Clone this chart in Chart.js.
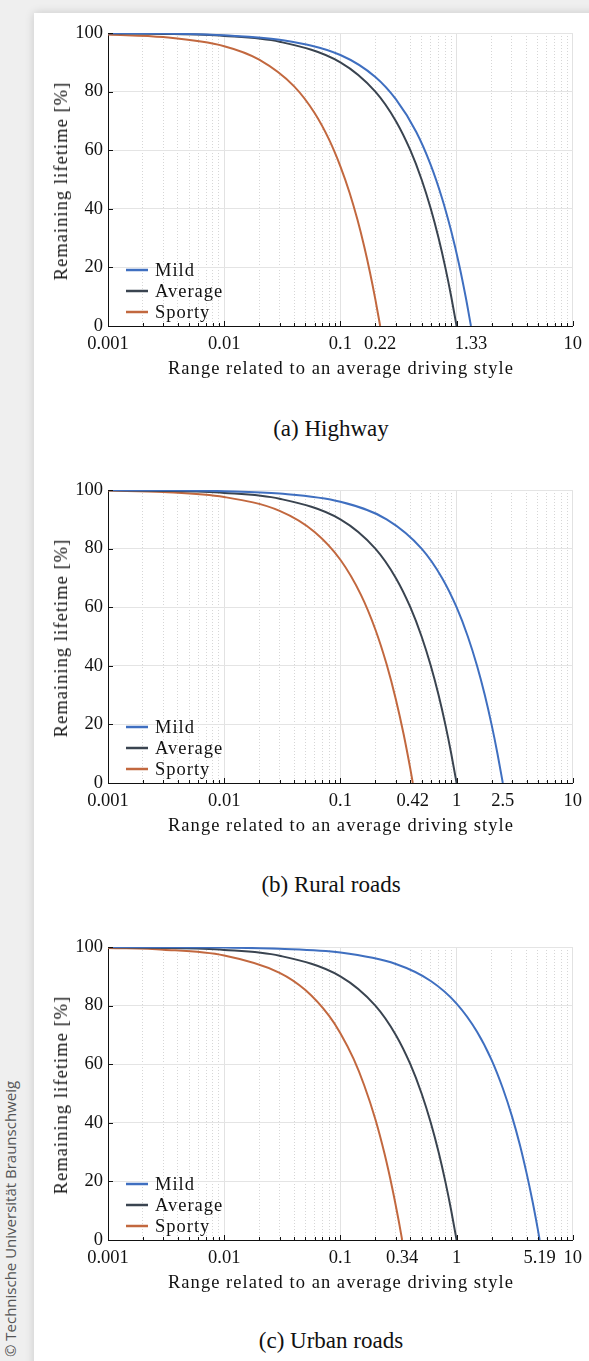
<!DOCTYPE html>
<html>
<head>
<meta charset="utf-8">
<script src="https://cdn.jsdelivr.net/npm/chart.js@4.4.0/dist/chart.umd.min.js"></script>
<style>
  html, body { margin: 0; padding: 0; }
  body { width: 589px; height: 1361px; background: #efefef; position: relative; overflow: hidden; font-family: "Liberation Serif", serif; color: #111; }
  #card { position: absolute; left: 34px; top: 13px; width: 580px; height: 1380px; background: #fff; box-shadow: 0 0 9px rgba(0,0,0,0.16); }
  .wrap { position: absolute; left: 35px; width: 554px; height: 365px; }
  .cap { position: absolute; left: 0; width: 662px; text-align: center; font-size: 23px; line-height: 28px; }
  .xt { position: absolute; left: 108px; width: 466px; text-align: center; font-size: 18.5px; letter-spacing: 1.05px; line-height: 22px; white-space: nowrap; }
  .yt { position: absolute; left: 61px; transform: translate(-50%, -50%) rotate(-90deg); font-size: 18.5px; letter-spacing: 1.05px; line-height: 22px; white-space: nowrap; }
  #wm { position: absolute; left: 10px; top: 1219px; transform: translate(-50%, -50%) rotate(-90deg); white-space: nowrap; font-family: "Open Sans", sans-serif; font-size: 15px; color: #555; }
</style>
</head>
<body>
<div id="card"></div>
<div class="wrap" style="top:13px"><canvas id="c1" width="554" height="365"></canvas></div>
<div class="xt" style="top:357px">Range related to an average driving style</div>
<div class="yt" style="top:181px">Remaining lifetime [%]</div>
<div class="cap" style="top:415px">(a) Highway</div>
<div class="wrap" style="top:470px"><canvas id="c2" width="554" height="365"></canvas></div>
<div class="xt" style="top:814px">Range related to an average driving style</div>
<div class="yt" style="top:638px">Remaining lifetime [%]</div>
<div class="cap" style="top:871px">(b) Rural roads</div>
<div class="wrap" style="top:927px"><canvas id="c3" width="554" height="365"></canvas></div>
<div class="xt" style="top:1271px">Range related to an average driving style</div>
<div class="yt" style="top:1095px">Remaining lifetime [%]</div>
<div class="cap" style="top:1327px">(c) Urban roads</div>
<div id="wm">© Technische Universität Braunschweig</div>
<script>
const seriesNames = ["Mild", "Average", "Sporty"];
const seriesColors = ["#3f6fc0", "#3a4450", "#c2683f"];

// (a) Highway
const hwLabels = [0.001, 0.01, 0.1, 0.22, 1.33, 10];
const hwMildX = [0.001, 0.003, 0.01, 0.03, 0.1, 0.2, 0.3, 0.45, 0.6, 0.75, 0.9, 1.05, 1.2, 1.33];
const hwMildY = [99.9, 99.8, 99.2, 97.7, 92.5, 85.0, 77.4, 66.2, 54.9, 43.6, 32.3, 21.1, 9.8, 0];
const hwAvgX = [0.001, 0.003, 0.01, 0.03, 0.1, 0.2, 0.3, 0.4, 0.5, 0.6, 0.7, 0.8, 0.9, 1.0];
const hwAvgY = [99.9, 99.7, 99.0, 97.0, 90.0, 80.0, 70.0, 60.0, 50.0, 40.0, 30.0, 20.0, 10.0, 0];
const hwSpoX = [0.001, 0.003, 0.01, 0.02, 0.04, 0.06, 0.08, 0.1, 0.12, 0.14, 0.16, 0.18, 0.2, 0.22];
const hwSpoY = [99.5, 98.6, 95.5, 90.9, 81.8, 72.7, 63.6, 54.5, 45.5, 36.4, 27.3, 18.2, 9.1, 0];

// (b) Rural roads
const ruLabels = [0.001, 0.01, 0.1, 0.42, 1, 2.5, 10];
const ruMildX = [0.001, 0.003, 0.01, 0.03, 0.1, 0.25, 0.5, 0.75, 1, 1.25, 1.5, 1.75, 2, 2.25, 2.5];
const ruMildY = [99.96, 99.9, 99.6, 98.8, 96.0, 90.0, 80.0, 70.0, 60.0, 50.0, 40.0, 30.0, 20.0, 10.0, 0];
const ruAvgX = [0.001, 0.003, 0.01, 0.03, 0.1, 0.2, 0.3, 0.4, 0.5, 0.6, 0.7, 0.8, 0.9, 1.0];
const ruAvgY = [99.9, 99.7, 99.0, 97.0, 90.0, 80.0, 70.0, 60.0, 50.0, 40.0, 30.0, 20.0, 10.0, 0];
const ruSpoX = [0.001, 0.003, 0.01, 0.03, 0.06, 0.1, 0.15, 0.2, 0.25, 0.3, 0.35, 0.4, 0.42];
const ruSpoY = [99.8, 99.3, 97.6, 92.9, 85.7, 76.2, 64.3, 52.4, 40.5, 28.6, 16.7, 4.8, 0];

// (c) Urban roads
const urLabels = [0.001, 0.01, 0.1, 0.34, 1, 5.19, 10];
const urMildX = [0.001, 0.003, 0.01, 0.03, 0.1, 0.3, 0.6, 1, 1.5, 2, 2.5, 3, 3.5, 4, 4.5, 5, 5.19];
const urMildY = [99.98, 99.94, 99.8, 99.4, 98.1, 94.2, 88.4, 80.7, 71.1, 61.5, 51.8, 42.2, 32.6, 22.9, 13.3, 3.7, 0];
const urAvgX = [0.001, 0.003, 0.01, 0.03, 0.1, 0.2, 0.3, 0.4, 0.5, 0.6, 0.7, 0.8, 0.9, 1.0];
const urAvgY = [99.9, 99.7, 99.0, 97.0, 90.0, 80.0, 70.0, 60.0, 50.0, 40.0, 30.0, 20.0, 10.0, 0];
const urSpoX = [0.001, 0.003, 0.01, 0.03, 0.05, 0.08, 0.1, 0.13, 0.16, 0.2, 0.24, 0.28, 0.32, 0.34];
const urSpoY = [99.7, 99.1, 97.1, 91.2, 85.3, 76.5, 70.6, 61.8, 52.9, 41.2, 29.4, 17.6, 5.9, 0];

const yTicks = [0, 20, 40, 60, 80, 100];

const FONT = "'Liberation Serif', serif";

function near(a, b) { return Math.abs(a - b) / b < 1e-6; }
function isDecade(v) { const l = Math.log10(v); return Math.abs(l - Math.round(l)) < 1e-6; }

function gridValues() {
  const out = [];
  for (let k = -3; k <= 0; k++)
    for (let m = 1; m <= 9; m++) out.push(parseFloat((m * Math.pow(10, k)).toPrecision(3)));
  out.push(10);
  return out;
}
const minorGrid = gridValues();
function onGrid(v) { return minorGrid.some(g => near(v, g)); }

// legend drawn inside the plot, bottom left
const innerLegend = {
  id: "innerLegend",
  afterDatasetsDraw(chart) {
    const { ctx, chartArea } = chart;
    ctx.save();
    ctx.font = "18.5px " + FONT;
    ctx.letterSpacing = "1px";
    ctx.textBaseline = "middle";
    chart.data.datasets.forEach((ds, i) => {
      const y = chartArea.bottom - 56 + i * 21;
      ctx.strokeStyle = ds.borderColor;
      ctx.lineWidth = 2.5;
      ctx.beginPath();
      ctx.moveTo(chartArea.left + 18, y);
      ctx.lineTo(chartArea.left + 40, y);
      ctx.stroke();
      ctx.fillStyle = "#111";
      ctx.fillText(ds.label, chartArea.left + 47, y + 1);
    });
    ctx.restore();
  }
};

// small inward tick marks on the left and bottom axes
const innerTicks = {
  id: "innerTicks",
  afterDraw(chart) {
    const { ctx, chartArea, scales } = chart;
    ctx.save();
    ctx.strokeStyle = "#111";
    ctx.lineWidth = 1;
    ctx.beginPath();
    scales.x.ticks.forEach(t => {
      if (!onGrid(t.value)) return;
      const px = Math.round(scales.x.getPixelForValue(t.value)) + 0.5;
      const len = isDecade(t.value) ? 5 : 3;
      ctx.moveTo(px, chartArea.bottom);
      ctx.lineTo(px, chartArea.bottom - len);
    });
    scales.y.ticks.forEach(t => {
      const py = Math.round(scales.y.getPixelForValue(t.value)) + 0.5;
      ctx.moveTo(chartArea.left, py);
      ctx.lineTo(chartArea.left + 5, py);
    });
    ctx.stroke();
    ctx.restore();
  }
};

function makeChart(id, xs, ys, labelTicks) {
  const datasets = seriesNames.map((name, i) => ({
    label: name,
    data: xs[i].map((x, j) => ({ x: x, y: ys[i][j] })),
    borderColor: seriesColors[i],
    backgroundColor: seriesColors[i],
    borderWidth: 2,
    pointRadius: 0,
    cubicInterpolationMode: "monotone",
    fill: false
  }));

  new Chart(document.getElementById(id), {
    type: "line",
    data: { datasets: datasets },
    options: {
      responsive: false,
      animation: false,
      layout: { padding: { top: 20, right: 15, left: 0, bottom: 0 } },
      plugins: { legend: { display: false }, tooltip: { enabled: false } },
      scales: {
        x: {
          type: "logarithmic",
          min: 0.001,
          max: 10,
          afterBuildTicks(scale) {
            const vals = minorGrid.slice();
            labelTicks.forEach(l => { if (!vals.some(v => near(l, v))) vals.push(l); });
            vals.sort((a, b) => a - b);
            scale.ticks = vals.map(v => ({ value: v }));
          },
          afterFit(scale) { scale.height = 52; },
          ticks: {
            autoSkip: false,
            maxRotation: 0,
            padding: 7,
            color: "#111",
            font: { family: FONT, size: 18.5 },
            callback(value) {
              return labelTicks.some(l => near(value, l)) ? String(value) : "";
            }
          },
          grid: {
            drawTicks: false,
            lineWidth: 1,
            color(c) {
              const v = c.tick && c.tick.value;
              if (!v || !onGrid(v)) return "rgba(0,0,0,0)";
              return isDecade(v) ? "#e2e2e2" : "#d6d6d6";
            }
          },
          border: {
            color: "#111",
            width: 1,
            dash(c) {
              const v = c.tick && c.tick.value;
              if (!v || isDecade(v)) return [];
              return [1, 2];
            }
          }
        },
        y: {
          min: 0,
          max: 100,
          afterBuildTicks(scale) { scale.ticks = yTicks.map(v => ({ value: v })); },
          afterFit(scale) { scale.width = 73; },
          ticks: {
            padding: 5,
            color: "#111",
            font: { family: FONT, size: 18.5 }
          },
          grid: { drawTicks: false, color: "#e4e4e4", lineWidth: 1 },
          border: { color: "#111", width: 1 }
        }
      }
    },
    plugins: [innerLegend, innerTicks]
  });
}

makeChart("c1", [hwMildX, hwAvgX, hwSpoX], [hwMildY, hwAvgY, hwSpoY], hwLabels);
makeChart("c2", [ruMildX, ruAvgX, ruSpoX], [ruMildY, ruAvgY, ruSpoY], ruLabels);
makeChart("c3", [urMildX, urAvgX, urSpoX], [urMildY, urAvgY, urSpoY], urLabels);
</script>
</body>
</html>
